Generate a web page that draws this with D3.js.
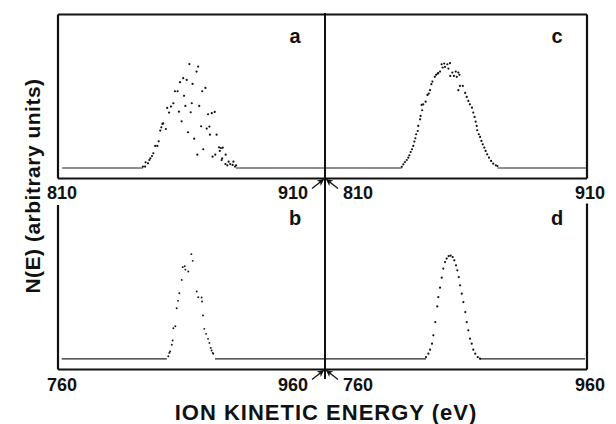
<!DOCTYPE html>
<html>
<head>
<meta charset="utf-8">
<script src="https://cdn.jsdelivr.net/npm/d3@7"></script>
<style>
  body { margin: 0; background: #fff; }
  text { font-family: "Liberation Sans", Arial, Helvetica, sans-serif; font-weight: bold; fill: #111; }
</style>
</head>
<body>
<div id="chart"></div>
<script>
// x ranges (eV) of the two rows
var domainTop = [810, 910];
var domainBottom = [760, 960];
var ticksTop = [810, 910];
var ticksBottom = [760, 960];

// panel a : scattered points (eV, arbitrary units)
var energyA = [859.2, 862.5, 861.9, 856.9, 855.7, 858.2, 860.4, 865.2, 864.0, 853.8, 854.8, 857.2, 853.2, 852.3, 850.9, 860.1, 857.7,
    862.9, 855.3, 851.6, 859.7, 868.7, 867.6, 866.2, 849.4, 849.1, 856.3, 848.7, 850.4, 863.6, 865.7, 866.7, 848.3, 858.7, 866.9,
    869.4, 861.0, 847.7, 847.2, 846.4, 864.4, 870.3, 871.0, 871.7, 870.6, 845.7, 845.2, 844.6, 844.2, 868.9, 872.8, 862.2, 867.9,
    871.5, 871.3, 842.8, 843.7, 873.9, 874.5, 872.7, 873.4, 875.7, 875.4, 841.8, 842.6, 876.3, 876.7];
var countsA = [98.8, 96.5, 91.7, 85.4, 81.6, 83.8, 80, 76.2, 73.0, 73, 73, 68.6, 61.6, 58.4, 57.1, 61.6, 59,
    59, 53.6, 52.7, 53, 53.3, 52.1, 51.1, 42.5, 41.9, 44.4, 38.7, 37.1, 39.7, 37.5, 39.4, 35.6, 34, 31.7,
    31.7, 27.9, 25.4, 21, 21, 17.8, 19.7, 19, 19.3, 16.2, 14, 11.4, 9.2, 7.6, 12.7, 12.7, 12.7, 10.8,
    9.2, 7.6, 5.4, 4.4, 6, 3.8, 3.8, 2.5, 6, 2.9, 1.3, 1.3, 1.3, 2.5];
var baseA = [[811.5, 841.8], [876.7, 910]];

// panel c
var energyC = [854.5, 855.5, 856.7, 857.7, 854.9, 855.8, 857.1, 853.9, 853.0, 852.4, 851.9, 853.2, 858.6, 859.9, 860.9, 857.8, 859.2,
    860.3, 861.3, 851.0, 850.6, 850.1, 849.6, 849.1, 848.4, 847.5, 846.9, 847.1, 846.5, 846.3, 861.5, 862.6, 860.9, 863.5, 864.1,
    864.7, 865.3, 866.1, 866.6, 867.1, 867.5, 867.9, 868.1, 868.7, 869.2, 869.7, 870.2, 870.8, 871.3, 871.9, 872.6, 873.4, 874.2,
    875.2, 875.8, 845.6, 845.4, 844.8, 844.5, 844.1, 843.7, 843.2, 842.7, 842.2, 841.8, 841.2, 840.5, 839.9, 839.3];
var countsC = [98.7, 99.4, 98.7, 99.7, 95.6, 96.2, 94.6, 91.7, 89.8, 88.6, 86.7, 90.2, 90.8, 91.7, 90.8, 87.6, 87.6,
    86.7, 88.6, 82.2, 79.7, 74, 70.8, 69.5, 63.1, 60.6, 60, 54.9, 49.5, 46.3, 78.1, 78.1, 74, 71.4, 67.6,
    63.8, 60.6, 57.4, 52.7, 48.6, 44.1, 40, 35.9, 32.1, 29.5, 25.7, 22.5, 19.4, 16.2, 13, 9.8, 6.7, 4.1,
    2.5, 1.9, 40, 35.2, 32.1, 28.3, 25.1, 21, 17.8, 15.2, 12.1, 9.8, 7.6, 5.7, 3.5, 1.2];
var baseC = [[810, 839.3], [875.8, 909.6]];

// panel b
var energyB = [859.9, 860.9, 853.4, 854.9, 855.4, 857.6, 852.7, 850.9, 863.9, 865.1, 867.6, 867.9, 849.9, 848.9, 868.6,
    847.9, 846.4, 869.6, 870.9, 872.4, 845.9, 845.2, 873.4, 843.9, 843.4, 874.4, 875.1, 875.9, 842.6, 876.3];
var countsB = [98.4, 92.1, 86.2, 87.1, 83.9, 82.1, 74.2, 61.7, 63.3, 57.9, 57.6, 53.9, 54.5, 47.6, 40.7,
    30.7, 28.8, 28.2, 23.5, 18.8, 17.2, 13.2, 15, 6.9, 5.6, 10.3, 7.8, 5.6, 2.5, 4.7];
var baseB = [[762.8, 841.5], [877.6, 960]];

// panel d
var energyD = [837.1, 838.9, 840.2, 841.7, 842.7, 844.2, 845.7, 846.5, 847.8, 849.1, 850.3, 851.6, 852.9, 854.4, 855.9, 857.5,
    858.7, 860, 861, 862.1, 863.1, 864.4, 865.6, 867.1, 868.2, 869.4, 870.7, 872, 873.2, 874.7, 876.6, 878.3];
var countsD = [1.7, 4.9, 8.6, 14.3, 22.1, 34.6, 49.3, 58.1, 66.9, 76.3, 84.8, 91, 94.2, 96.6, 97, 95.7,
    92.6, 87.9, 83.2, 76.9, 69.1, 61.3, 53.4, 44, 34.6, 26.8, 19, 14.3, 8.6, 4.9, 1.7, 0.2];
var baseD = [[760, 837.1], [878.3, 958.5]];

var width = 616, height = 424;
var yDomain = [-10, 146];
var rows = [{ top: 14.5, bottom: 178.5, label: 199 }, { top: 203.5, bottom: 369.5, label: 391 }];
var cols = [{ left: 58, right: 325 }, { left: 325, right: 587 }];

var panels = [
    { name: "a", row: 0, col: 0, dom: domainTop, ticks: ticksTop, E: energyA, N: countsA, base: baseA, r: 1.1 },
    { name: "c", row: 0, col: 1, dom: domainTop, ticks: ticksTop, E: energyC, N: countsC, base: baseC, r: 1.1 },
    { name: "b", row: 1, col: 0, dom: domainBottom, ticks: ticksBottom, E: energyB, N: countsB, base: baseB, r: 0.95 },
    { name: "d", row: 1, col: 1, dom: domainBottom, ticks: ticksBottom, E: energyD, N: countsD, base: baseD, r: 1.1 }
];

var svg = d3.select("#chart").append("svg")
    .attr("width", width)
    .attr("height", height);

svg.append("defs").append("marker")
    .attr("id", "head")
    .attr("viewBox", "0 0 10 10")
    .attr("refX", 9).attr("refY", 5)
    .attr("markerWidth", 7).attr("markerHeight", 7)
    .attr("markerUnits", "userSpaceOnUse")
    .attr("orient", "auto")
    .append("path")
    .attr("d", "M0,0L10,5L0,10L3,5Z")
    .attr("fill", "#111");

panels.forEach(function(p) {
    var row = rows[p.row], col = cols[p.col];
    var x = d3.scaleLinear().domain(p.dom).range([col.left, col.right]);
    var y = d3.scaleLinear().domain(yDomain).range([row.bottom, row.top]);
    var g = svg.append("g").attr("class", "panel-" + p.name);

    // frame: top row closed on top, bottom row open
    var outer = p.col === 0 ? col.left : col.right;
    var frame = d3.path();
    if (p.row === 0) {
        frame.moveTo(col.left, row.top);
        frame.lineTo(col.right, row.top);
        frame.moveTo(outer, row.top);
    } else {
        frame.moveTo(outer, row.top + (p.col === 0 ? 1.5 : 0));
    }
    frame.lineTo(outer, row.bottom);
    frame.moveTo(col.left, row.bottom);
    frame.lineTo(col.right, row.bottom);
    g.append("path")
        .attr("d", frame.toString())
        .attr("fill", "none")
        .attr("stroke", "#111")
        .attr("stroke-width", 2.2);

    // flat baseline either side of the peak
    var line = d3.line().x(function(d) { return x(d); }).y(y(0));
    p.base.forEach(function(seg) {
        g.append("path")
            .attr("d", line(seg))
            .attr("fill", "none")
            .attr("stroke", "#222")
            .attr("stroke-width", 1.2);
    });

    // peak points
    g.selectAll("circle")
        .data(d3.range(p.E.length))
        .enter()
        .append("circle")
        .attr("cx", function(i) { return x(p.E[i]); })
        .attr("cy", function(i) { return y(p.N[i]); })
        .attr("r", p.r)
        .attr("fill", "#111");

    // panel letter
    g.append("text")
        .attr("x", col.right - 30)
        .attr("y", row.top + (p.row === 0 ? 28.5 : 21))
        .attr("text-anchor", "middle")
        .attr("font-size", 20)
        .text(p.name);

    // tick labels (the inner ones get arrows pointing at the divider)
    p.ticks.forEach(function(t, k) {
        var inner = (k === 0 && p.col === 1) || (k === 1 && p.col === 0);
        var tx = x(t), dx, anchor;
        if (k === 0) { dx = p.col === 0 ? -11 : 18; anchor = "start"; }
        else { dx = p.col === 0 ? -17 : 18; anchor = "end"; }
        g.append("text")
            .attr("x", tx + dx)
            .attr("y", row.label)
            .attr("text-anchor", anchor)
            .attr("font-size", 18)
            .text(t);
        if (inner) {
            var sx = p.col === 0 ? tx - 13 : tx + 13;
            var ex = p.col === 0 ? tx - 1.5 : tx + 1.5;
            g.append("line")
                .attr("x1", sx).attr("y1", row.bottom + 10)
                .attr("x2", ex).attr("y2", row.bottom + 1)
                .attr("stroke", "#111")
                .attr("stroke-width", 1.3)
                .attr("marker-end", "url(#head)");
        }
    });
});

// shared vertical divider
svg.append("line")
    .attr("x1", cols[1].left).attr("x2", cols[1].left)
    .attr("y1", rows[0].top - 1.5).attr("y2", rows[1].label - 12)
    .attr("stroke", "#111")
    .attr("stroke-width", 2);

// axis titles
svg.append("text")
    .attr("x", 326)
    .attr("y", 420)
    .attr("text-anchor", "middle")
    .attr("font-size", 22)
    .attr("letter-spacing", 1)
    .text("ION KINETIC ENERGY (eV)");

svg.append("text")
    .attr("transform", "translate(40,186) rotate(-90)")
    .attr("text-anchor", "middle")
    .attr("font-size", 21)
    .attr("letter-spacing", 0.5)
    .text("N(E) (arbitrary units)");
</script>
</body>
</html>
